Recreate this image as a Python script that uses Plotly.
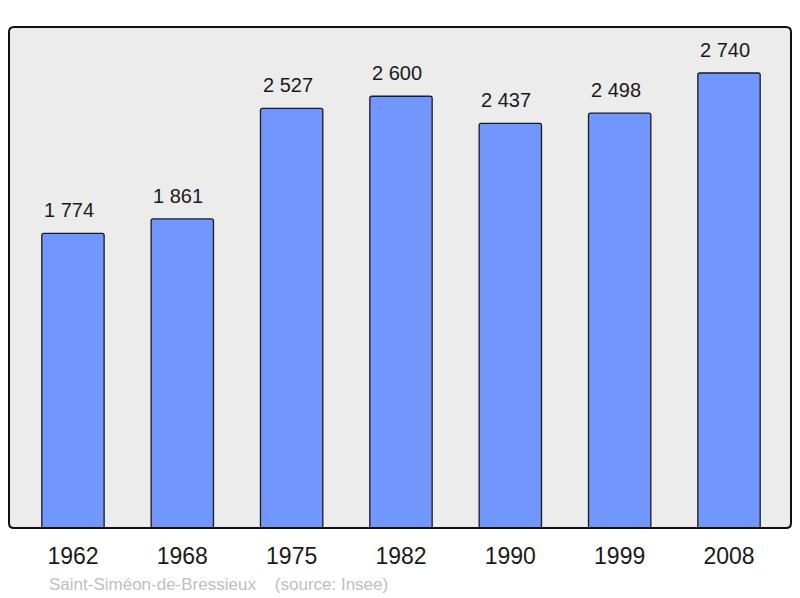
import plotly.graph_objects as go

# data dibaca dari gambar referensi
annees = ["1962", "1968", "1975", "1982", "1990", "1999", "2008"]
population = [1774, 1861, 2527, 2600, 2437, 2498, 2740]
commune = "Saint-Siméon-de-Bressieux"
sumber = "(source: Insee)"

# halaman html punya margin body 8px, jadi semua digeser 8px
OFF = 8
W, H = 800 - OFF, 598 - OFF
ML, MT = 9 - OFF, 27 - OFF
MR, MB = W - (791 - OFF), H - (528 - OFF)
FONT = "Liberation Sans, Arial, sans-serif"


def fmt(v):
    # pemisah ribuan gaya Prancis
    return f"{v:,}".replace(",", "\u00a0")


fig = go.Figure()
fig.add_trace(
    go.Bar(
        x=annees,
        y=population,
        width=0.57,
        marker=dict(color="#7197ff", line=dict(color="#1a1a1a", width=1.3), cornerradius=2),
        hoverinfo="skip",
    )
)

# label nilai di atas batang (x pakai indeks kategori)
for i, v in enumerate(population):
    fig.add_annotation(
        x=i, y=v, text=fmt(v), showarrow=False,
        yanchor="bottom", yshift=10, xshift=-4,
        font=dict(size=20, color="#1a1a1a", family=FONT),
    )

# bingkai bulat di sekitar area plot
pw, ph = W - ML - MR, H - MT - MB
rx, ry = 5 / pw, 5 / ph
path = (
    f"M {rx},0 L {1-rx},0 Q 1,0 1,{ry} L 1,{1-ry} Q 1,1 {1-rx},1 "
    f"L {rx},1 Q 0,1 0,{1-ry} L 0,{ry} Q 0,0 {rx},0 Z"
)
fig.add_shape(
    type="path", path=path, xref="paper", yref="paper",
    line=dict(color="#111111", width=2), layer="above",
)

fig.add_annotation(
    text=commune + "\u00a0" * 4 + sumber,
    xref="paper", yref="paper", x=(47 - 9) / pw, y=-(584 - 528) / ph,
    xanchor="left", yanchor="middle", showarrow=False,
    font=dict(size=17, color="#c0c0c0", family=FONT),
)

fig.update_layout(
    width=W,
    height=H,
    margin=dict(l=ML, r=MR, t=MT, b=MB),
    paper_bgcolor="white",
    plot_bgcolor="#ececec",
    showlegend=False,
    font=dict(family=FONT, color="#1a1a1a"),
)
fig.update_xaxes(
    type="category",
    range=[-0.585, 6.567],
    showgrid=False,
    showline=False,
    zeroline=False,
    ticks="",
    tickfont=dict(size=23, color="#1a1a1a"),
    ticklabelstandoff=12,
)
fig.update_yaxes(
    range=[0, 3017],
    showgrid=False,
    zeroline=False,
    showticklabels=False,
    showline=False,
)

fig.write_html("out.html")
